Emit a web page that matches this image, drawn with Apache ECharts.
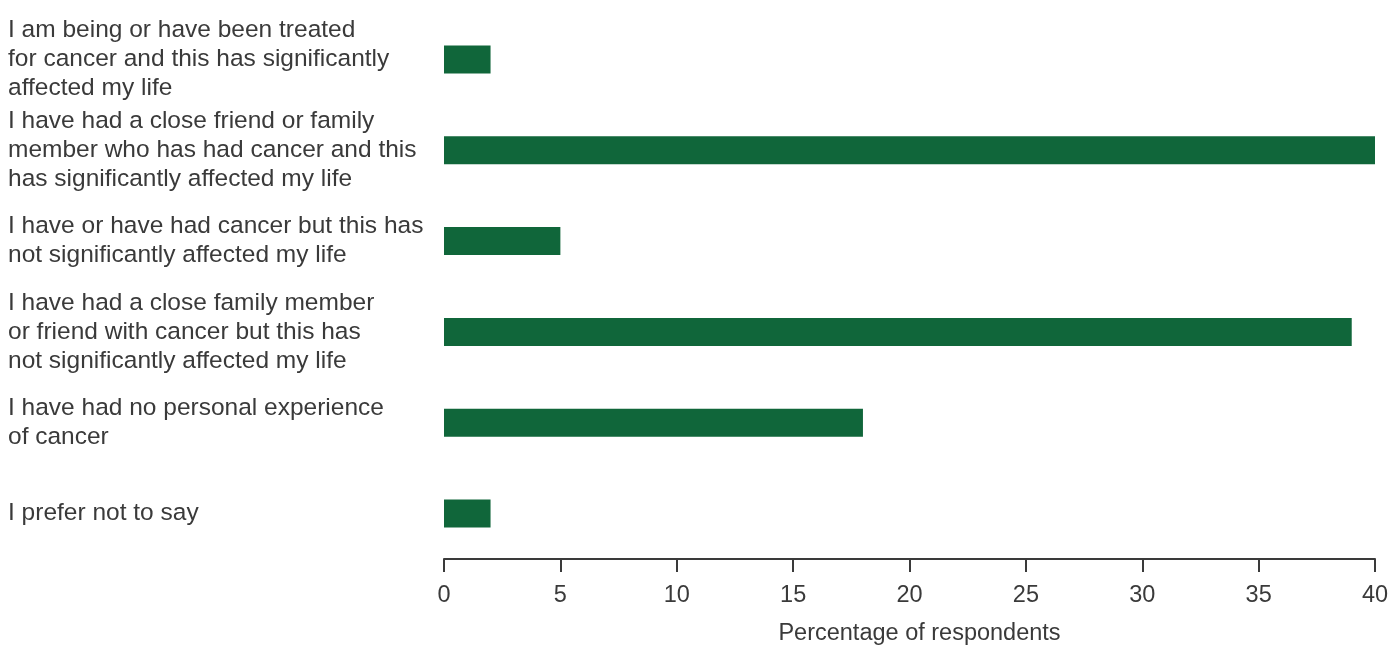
<!DOCTYPE html>
<html>
<head>
<meta charset="utf-8">
<script src="https://cdn.jsdelivr.net/npm/echarts@6/dist/echarts.min.js"></script>
<style>
html,body{margin:0;padding:0;background:#fff;}
#chart{width:1394px;height:646px;}
</style>
</head>
<body>
<div id="chart"></div>
<script>
const categories = [
  "I am being or have been treated\nfor cancer and this has significantly\naffected my life",
  "I have had a close friend or family\nmember who has had cancer and this\nhas significantly affected my life",
  "I have or have had cancer but this has\nnot significantly affected my life",
  "I have had a close family member\nor friend with cancer but this has\nnot significantly affected my life",
  "I have had no personal experience\nof cancer",
  "I prefer not to say"
];
const values = [2, 40, 5, 39, 18, 2];
const xTicks = [0, 5, 10, 15, 20, 25, 30, 35, 40];
const xAxisName = "Percentage of respondents";

const font = "'Liberation Sans', Arial, Helvetica, sans-serif";
const chart = echarts.init(document.getElementById('chart'));
chart.setOption({
  animation: false,
  grid: { left: 444, right: 19, top: 14, bottom: 87, containLabel: false, outerBoundsMode: 'none' },
  xAxis: {
    type: 'value',
    min: xTicks[0],
    max: xTicks[xTicks.length - 1],
    interval: xTicks[1] - xTicks[0],
    name: xAxisName,
    nameLocation: 'middle',
    nameGap: 63,
    nameTextStyle: { fontFamily: font, fontSize: 23.5, color: '#3a3a3a', padding: [0, 0, 0, 20] },
    axisLine: { show: true, lineStyle: { color: '#3a3a3a', width: 2 } },
    axisTick: { show: true, length: 13, lineStyle: { color: '#3a3a3a', width: 2 } },
    axisLabel: { fontFamily: font, fontSize: 23.5, color: '#3a3a3a', margin: 25 },
    splitLine: { show: false }
  },
  yAxis: {
    type: 'category',
    inverse: true,
    data: categories,
    axisLine: { show: false },
    axisTick: { show: false },
    axisLabel: {
      fontFamily: font, fontSize: 24.5, color: '#3a3a3a',
      align: 'left', margin: 436, lineHeight: 29
    }
  },
  series: [{
    type: 'bar',
    data: values,
    barWidth: 28,
    itemStyle: { color: '#10663a' }
  }]
});
</script>
</body>
</html>
